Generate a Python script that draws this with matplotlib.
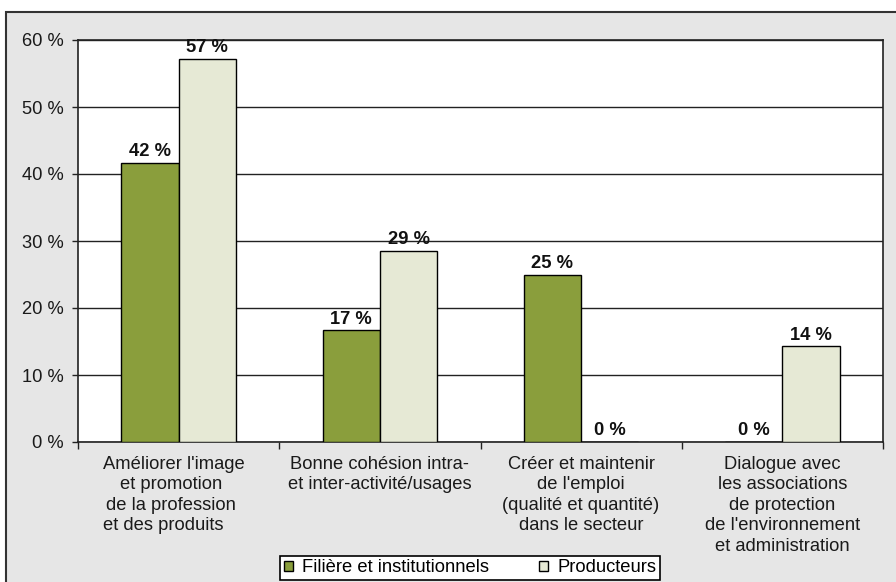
import matplotlib
matplotlib.use("Agg")
import matplotlib.pyplot as plt
from matplotlib.patches import Rectangle, Patch
import numpy as np

plt.rcParams['font.family'] = ['Liberation Sans', 'DejaVu Sans']

categories = [
    "Améliorer l'image  \net promotion   \nde la profession   \net des produits      ",
    "Bonne cohésion intra-\net inter-activité/usages",
    "Créer et maintenir\nde l'emploi\n(qualité et quantité)\ndans le secteur",
    "Dialogue avec\nles associations\nde protection\nde l'environnement\net administration",
]
series_names = ["Filière et institutionnels", "Producteurs"]
filiere = [41.67, 16.67, 25.0, 0.0]
producteurs = [57.14, 28.57, 0.0, 14.29]
yticks = [0, 10, 20, 30, 40, 50, 60]

FS = 13.2
W, H = 896, 582
fig = plt.figure(figsize=(W / 100, H / 100), dpi=100, facecolor='white')

# outer gray frame
fig.patches.append(Rectangle((6 / W, -0.05), 1.1, 1.05 - 12 / H, transform=fig.transFigure,
                             facecolor='#e6e6e6', edgecolor='#333333', lw=1.5, zorder=-10))

ax = fig.add_axes([78 / W, (H - 442) / H, (883 - 78) / W, (442 - 40) / H])
ax.set_facecolor('white')
ax.set_zorder(1)

x = np.arange(len(categories))
bw = 0.285
c1, c2 = '#8a9e3c', '#e6e9d5'
b1 = ax.bar(x - bw / 2, filiere, bw, color=c1, edgecolor='black', lw=1, zorder=3)
b2 = ax.bar(x + bw / 2, producteurs, bw, color=c2, edgecolor='black', lw=1, zorder=3)

for bars, vals in ((b1, filiere), (b2, producteurs)):
    for r, v in zip(bars, vals):
        ax.text(r.get_x() + r.get_width() / 2, v + 0.4, f"{round(v):d} %",
                ha='center', va='bottom', fontsize=FS, fontweight='bold', color='#111111')

ax.set_xlim(-0.5, len(categories) - 0.5)
ax.set_ylim(0, 60)
ax.set_yticks(yticks)
ax.set_yticklabels([f"{t} %" for t in yticks], fontsize=FS, color='#1a1a1a')
ax.yaxis.grid(True, color='#222222', lw=1, zorder=0)
ax.set_axisbelow(True)

ax.set_xticks(np.arange(-0.5, len(categories), 1.0))
ax.set_xticklabels([])
ax.set_xticks(x, minor=True)
ax.set_xticklabels(categories, minor=True, fontsize=FS, color='#1a1a1a', linespacing=1.27,
                   va='top', ha='center', multialignment='center')
ax.tick_params(axis='x', which='minor', length=0, pad=10)
ax.tick_params(axis='x', which='major', length=5, width=1, direction='out', color='#222222')
ax.tick_params(axis='y', length=4, width=1, direction='out', pad=6, color='#222222')

for s in ax.spines.values():
    s.set_color('#222222')
    s.set_linewidth(1.2)

handles = [Patch(facecolor=c1, edgecolor='black', lw=1), Patch(facecolor=c2, edgecolor='black', lw=1)]
leg = fig.legend(handles, series_names, loc='center', bbox_to_anchor=(470 / W, 1 - 568 / H),
                 ncol=2, fontsize=FS, frameon=True, fancybox=False, handlelength=0.5,
                 handleheight=0.5, handletextpad=0.5, columnspacing=2.7, borderpad=0.2,
                 edgecolor='black', framealpha=1)
leg.get_frame().set_linewidth(1.2)

fig.savefig('out.png', dpi=100, facecolor='white')
